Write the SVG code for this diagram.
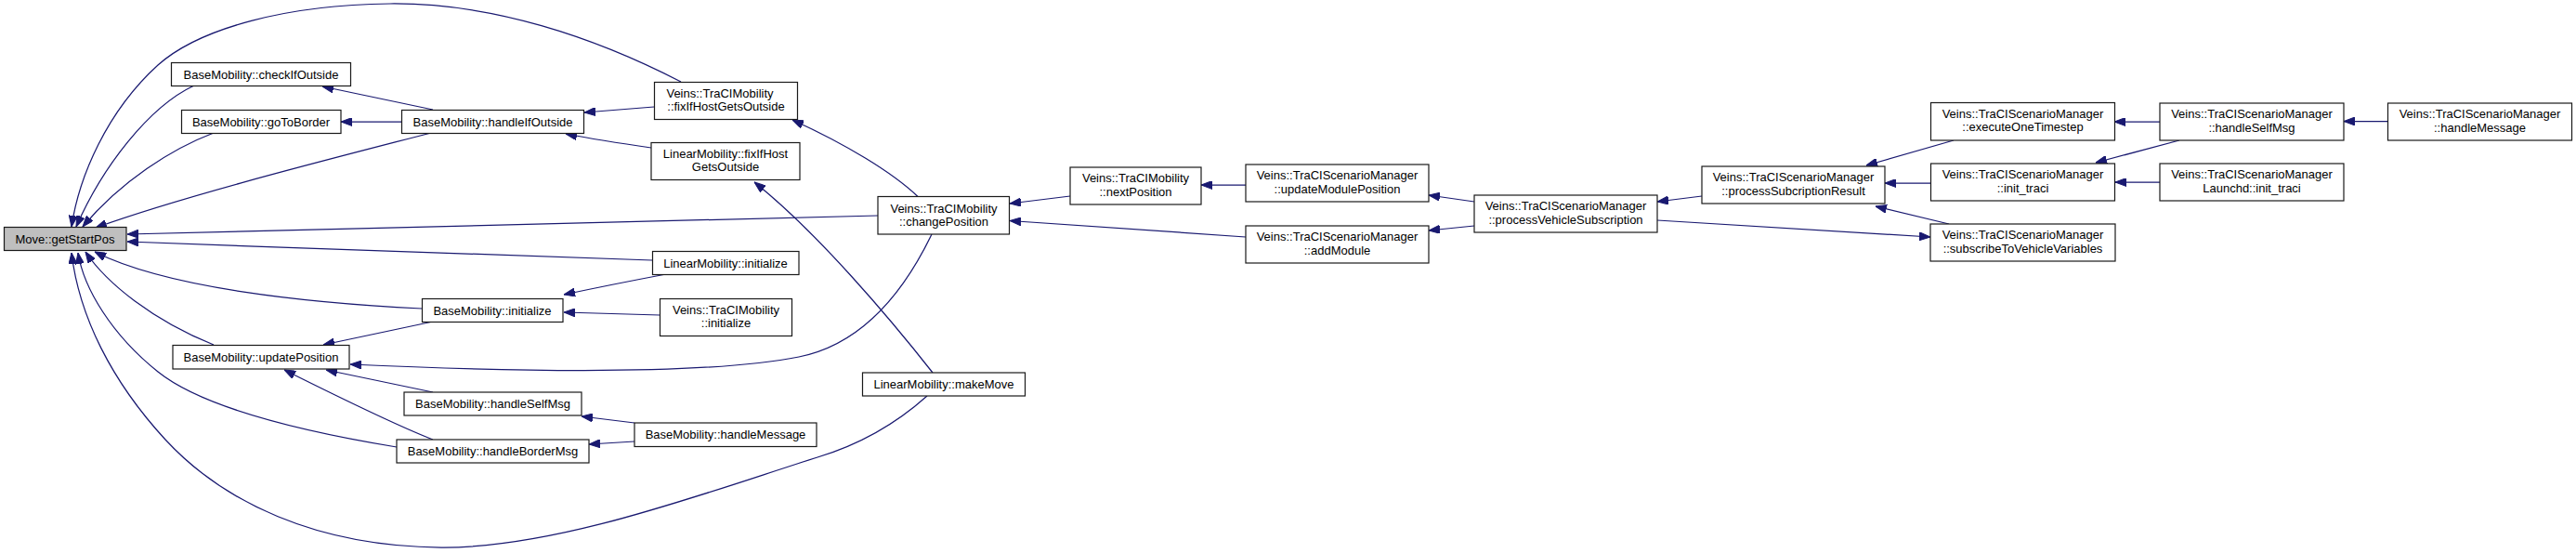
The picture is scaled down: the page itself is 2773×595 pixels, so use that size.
<svg xmlns="http://www.w3.org/2000/svg" width="2773" height="595" viewBox="0 0 2773 595">
<style>
.box{fill:#ffffff;stroke:#1a1a1a;stroke-width:1.2}
.root{fill:#bfbfbf;stroke:#1a1a1a;stroke-width:1.2}
text{font-family:"Liberation Sans",Arial,Helvetica,sans-serif;font-size:13px;fill:#000000;text-anchor:middle}
.edge{fill:none;stroke:#191970;stroke-width:1.25;marker-end:url(#ah)}
</style>
<defs>
<marker id="ah" viewBox="0 0 12 9" refX="12" refY="4.5" markerWidth="12" markerHeight="9" markerUnits="userSpaceOnUse" orient="auto">
<path d="M0,0 L12,4.5 L0,9 z" fill="#191970" stroke="#191970" stroke-width="1"/>
</marker>
</defs>
<rect width="2773" height="595" fill="#ffffff"/>
<g id="connectors">
<path class="edge" d="M733,88 C640,40 530,3 420,4 C310,5 215,30 170,70 C115,120 85,190 77,244"/>
<path class="edge" d="M209,92 C160,115 110,180 82,244"/>
<path class="edge" d="M230,143 C185,160 130,195 89,244"/>
<path class="edge" d="M464,143 C360,170 200,210 103,245"/>
<path class="edge" d="M945,232 C600,238 300,247 137,252"/>
<path class="edge" d="M702,280 C600,277 350,268 137,260"/>
<path class="edge" d="M454,332 C330,326 180,310 102,271"/>
<path class="edge" d="M230,371 C165,345 115,305 92,271"/>
<path class="edge" d="M427,481 C330,465 220,440 170,400 C120,360 90,310 84,272"/>
<path class="edge" d="M998,426 C960,460 920,480 880,492 C760,530 600,590 475,589 C340,588 240,540 178,473 C120,410 85,340 77,272"/>
<path class="edge" d="M466,118 L347,93"/>
<path class="edge" d="M432,131 L367,131"/>
<path class="edge" d="M704,115 L629,121"/>
<path class="edge" d="M701,159 C680,156 640,150 609,144"/>
<path class="edge" d="M988,211.5 C960,185 910,155 853,129"/>
<path class="edge" d="M1004,401 C960,345 880,250 812,196"/>
<path class="edge" d="M717,295 C680,302 640,310 607,317"/>
<path class="edge" d="M710,339 L607,336"/>
<path class="edge" d="M466,346 L348,371"/>
<path class="edge" d="M1003,252 C975,310 930,370 860,384 C770,402 600,402 377,392"/>
<path class="edge" d="M466,422 L351,398"/>
<path class="edge" d="M466,473 C420,455 350,420 306,398"/>
<path class="edge" d="M683,455 L626,448"/>
<path class="edge" d="M683,475 L634,478"/>
<path class="edge" d="M1152,211 L1087,219"/>
<path class="edge" d="M1341,255 L1087,237.5"/>
<path class="edge" d="M1341,199 L1293,199"/>
<path class="edge" d="M1587,217 L1538,210"/>
<path class="edge" d="M1587,243 L1538,248"/>
<path class="edge" d="M1832,211 L1784,217"/>
<path class="edge" d="M1784,237 L2078,255"/>
<path class="edge" d="M2103,151 L2009,178"/>
<path class="edge" d="M2078,197 L2029,197"/>
<path class="edge" d="M2098,241 L2019,222"/>
<path class="edge" d="M2325,131 L2276,131"/>
<path class="edge" d="M2346,151 L2256,175"/>
<path class="edge" d="M2325,196 L2277,196"/>
<path class="edge" d="M2570,130.5 L2523,130.5"/>
</g>
<g id="n_getStartPos"><rect class="root" x="4.5" y="244.5" width="131.5" height="25"/><text x="70" y="261.5">Move::getStartPos</text></g>
<g id="n_checkIfOutside"><rect class="box" x="184.5" y="67.5" width="193" height="25"/><text x="281" y="84.5">BaseMobility::checkIfOutside</text></g>
<g id="n_goToBorder"><rect class="box" x="195.5" y="118.5" width="171.5" height="25"/><text x="281" y="135.5">BaseMobility::goToBorder</text></g>
<g id="n_handleIfOutside"><rect class="box" x="432.5" y="118.5" width="196" height="25"/><text x="530.5" y="135.5">BaseMobility::handleIfOutside</text></g>
<g id="n_veinsFixIf"><rect class="box" x="704.5" y="88.5" width="154" height="40"/><text x="775" y="104.5">Veins::TraCIMobility</text><text x="781.5" y="119">::fixIfHostGetsOutside</text></g>
<g id="n_linearFixIf"><rect class="box" x="701" y="153.5" width="160" height="40"/><text x="781" y="169.5">LinearMobility::fixIfHost</text><text x="781" y="184">GetsOutside</text></g>
<g id="n_changePosition"><rect class="box" x="945" y="211.5" width="141.5" height="40.5"/><text x="1016" y="228.5">Veins::TraCIMobility</text><text x="1016" y="242.5">::changePosition</text></g>
<g id="n_linearInit"><rect class="box" x="702.5" y="270.5" width="157.5" height="25"/><text x="781" y="287.5">LinearMobility::initialize</text></g>
<g id="n_baseInit"><rect class="box" x="454.5" y="321.5" width="151.5" height="25"/><text x="530" y="338.5">BaseMobility::initialize</text></g>
<g id="n_veinsInit"><rect class="box" x="710.5" y="321.5" width="142" height="40"/><text x="781.5" y="337.5">Veins::TraCIMobility</text><text x="781.5" y="352">::initialize</text></g>
<g id="n_updatePosition"><rect class="box" x="186" y="371.5" width="190" height="25.5"/><text x="281" y="388.5">BaseMobility::updatePosition</text></g>
<g id="n_handleSelfMsg"><rect class="box" x="435" y="422" width="191" height="25"/><text x="530.5" y="439">BaseMobility::handleSelfMsg</text></g>
<g id="n_handleBorderMsg"><rect class="box" x="427" y="473" width="207" height="25"/><text x="530.5" y="490">BaseMobility::handleBorderMsg</text></g>
<g id="n_baseHandleMessage"><rect class="box" x="683" y="455" width="196" height="25.5"/><text x="781" y="472">BaseMobility::handleMessage</text></g>
<g id="n_makeMove"><rect class="box" x="928.5" y="401" width="175" height="25"/><text x="1016" y="418">LinearMobility::makeMove</text></g>
<g id="n_nextPosition"><rect class="box" x="1152" y="180" width="141" height="40"/><text x="1222.5" y="196">Veins::TraCIMobility</text><text x="1222.5" y="210.5">::nextPosition</text></g>
<g id="n_updateModulePosition"><rect class="box" x="1341" y="177" width="197" height="40"/><text x="1439.5" y="193">Veins::TraCIScenarioManager</text><text x="1439.5" y="207.5">::updateModulePosition</text></g>
<g id="n_addModule"><rect class="box" x="1341" y="243" width="197" height="40"/><text x="1439.5" y="259">Veins::TraCIScenarioManager</text><text x="1439.5" y="273.5">::addModule</text></g>
<g id="n_processVehicleSubscription"><rect class="box" x="1587" y="210" width="197" height="40"/><text x="1685.5" y="226">Veins::TraCIScenarioManager</text><text x="1685.5" y="240.5">::processVehicleSubscription</text></g>
<g id="n_processSubcriptionResult"><rect class="box" x="1832" y="179" width="197" height="40"/><text x="1930.5" y="195">Veins::TraCIScenarioManager</text><text x="1930.5" y="209.5">::processSubcriptionResult</text></g>
<g id="n_executeOneTimestep"><rect class="box" x="2078.5" y="110.5" width="198" height="40.5"/><text x="2177.5" y="126.5">Veins::TraCIScenarioManager</text><text x="2177.5" y="141">::executeOneTimestep</text></g>
<g id="n_initTraci"><rect class="box" x="2078.5" y="176" width="198" height="40"/><text x="2177.5" y="192">Veins::TraCIScenarioManager</text><text x="2177.5" y="206.5">::init_traci</text></g>
<g id="n_subscribeToVehicleVariables"><rect class="box" x="2078" y="241" width="199" height="40"/><text x="2177.5" y="257">Veins::TraCIScenarioManager</text><text x="2177.5" y="271.5">::subscribeToVehicleVariables</text></g>
<g id="n_smHandleSelfMsg"><rect class="box" x="2325" y="111" width="198" height="40"/><text x="2424" y="127">Veins::TraCIScenarioManager</text><text x="2424" y="141.5">::handleSelfMsg</text></g>
<g id="n_launchdInitTraci"><rect class="box" x="2325" y="176" width="198" height="40"/><text x="2424" y="192">Veins::TraCIScenarioManager</text><text x="2424" y="206.5">Launchd::init_traci</text></g>
<g id="n_smHandleMessage"><rect class="box" x="2570.5" y="111" width="198" height="40"/><text x="2669.5" y="127">Veins::TraCIScenarioManager</text><text x="2669.5" y="141.5">::handleMessage</text></g>
</svg>
